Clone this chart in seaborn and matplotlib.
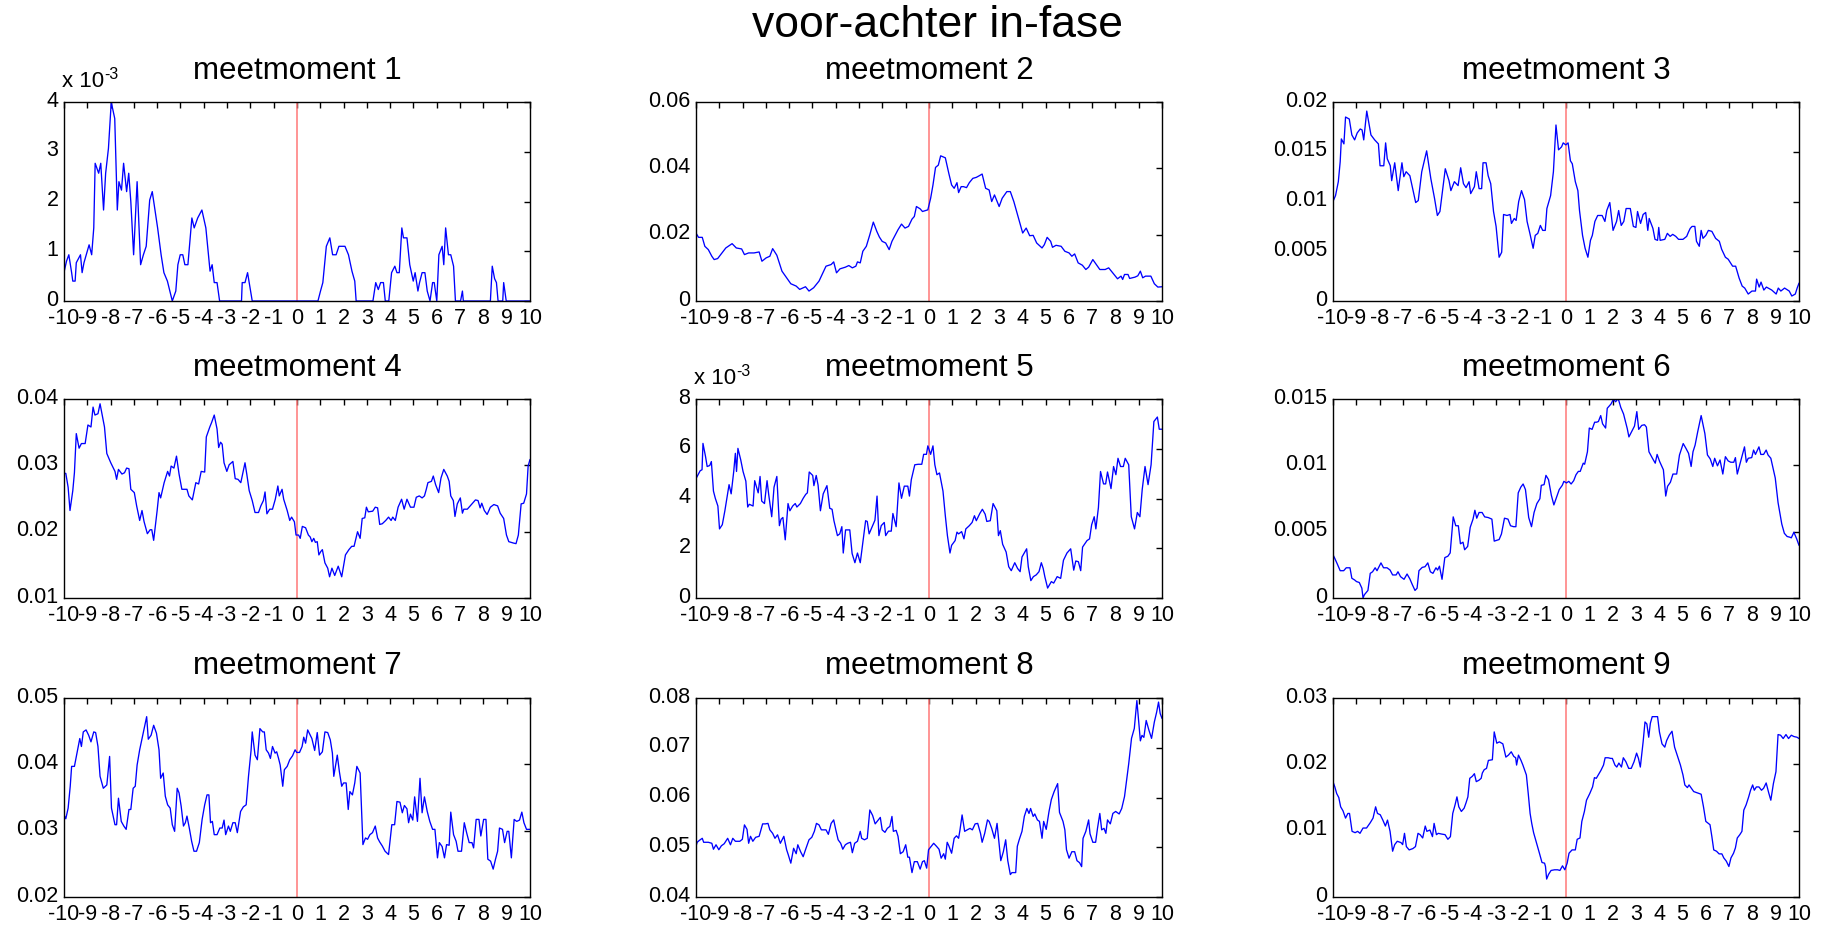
import numpy as np
import pandas as pd
import matplotlib
matplotlib.use("Agg")
import matplotlib.pyplot as plt
import matplotlib.transforms as mtransforms
from matplotlib.ticker import FuncFormatter
import seaborn as sns

# ---------------- data (x = time offset, y = value) ----------------
suptitle = "voor-achter in-fase"
titles = ["meetmoment %d" % i for i in range(1, 10)]
xticks = list(range(-10, 11))

# meetmoment 1 and 5 are read in units of 1e-3
meet1 = [(-10.0,0.57),(-9.89,0.8),(-9.79,0.93),(-9.67,0.57),(-9.62,0.4),(-9.52,0.4),(-9.47,0.77),(-9.29,0.93),
 (-9.22,0.57),(-9.14,0.77),(-8.92,1.13),(-8.81,0.93),(-8.72,1.47),(-8.66,2.77),(-8.51,2.57),(-8.42,2.77),
 (-8.30,1.83),(-8.21,2.57),(-8.09,3.07),(-7.97,4.0),(-7.82,3.67),(-7.71,1.83),(-7.64,2.4),(-7.53,2.23),
 (-7.44,2.77),(-7.31,2.2),(-7.22,2.57),(-7.13,2.0),(-7.01,0.93),(-6.86,2.4),(-6.71,0.73),(-6.59,0.93),
 (-6.47,1.1),(-6.32,2.03),(-6.21,2.2),(-5.98,1.47),(-5.83,0.93),(-5.71,0.57),(-5.56,0.4),(-5.35,0.0),
 (-5.20,0.2),(-5.11,0.73),(-5.01,0.93),(-4.90,0.93),(-4.81,0.73),(-4.68,0.73),(-4.51,1.67),(-4.41,1.47),
 (-4.26,1.67),(-4.08,1.83),(-3.91,1.47),(-3.73,0.6),(-3.64,0.73),(-3.55,0.37),(-3.43,0.37),(-3.32,0.0),
 (-2.38,0.0),(-2.35,0.37),(-2.23,0.37),(-2.12,0.57),(-2.05,0.37),(-1.92,0.0),(0.90,0.0),(1.01,0.2),
 (1.11,0.37),(1.26,1.1),(1.41,1.27),(1.53,0.93),(1.68,0.93),(1.80,1.1),(2.06,1.1),(2.21,0.93),(2.36,0.6),
 (2.48,0.4),(2.54,0.0),(3.26,0.0),(3.38,0.37),(3.49,0.23),(3.59,0.37),(3.71,0.37),(3.79,0.0),(3.94,0.0),
 (4.06,0.57),(4.20,0.7),(4.29,0.57),(4.39,0.57),(4.50,1.47),(4.57,1.27),(4.72,1.27),(4.84,0.73),(4.99,0.4),
 (5.07,0.57),(5.19,0.2),(5.26,0.37),(5.37,0.57),(5.49,0.57),(5.59,0.2),(5.71,0.0),(5.82,0.37),(5.89,0.37),
 (6.00,0.0),(6.09,0.93),(6.23,1.1),(6.30,0.73),(6.38,1.47),(6.50,0.93),(6.60,0.93),(6.72,0.7),(6.80,0.0),
 (7.02,0.0),(7.10,0.2),(7.14,0.0),(8.30,0.0),(8.38,0.7),(8.48,0.45),(8.56,0.37),(8.63,0.0),(8.83,0.0),
 (8.87,0.37),(8.98,0.0),(10.0,0.0)]

meet2 = [(-10.0,0.0205),(-9.89,0.0192),(-9.73,0.0192),(-9.62,0.0165),(-9.47,0.0155),(-9.32,0.0135),(-9.22,0.0125),
 (-9.07,0.0128),(-8.94,0.014),(-8.72,0.016),(-8.45,0.0173),(-8.27,0.016),(-8.04,0.0157),(-7.92,0.014),
 (-7.74,0.0145),(-7.51,0.0145),(-7.29,0.0148),(-7.17,0.012),(-6.99,0.013),(-6.83,0.0135),(-6.71,0.0158),
 (-6.53,0.0138),(-6.31,0.009),(-6.16,0.0075),(-5.93,0.0052),(-5.70,0.0045),(-5.55,0.0035),(-5.40,0.004),
 (-5.30,0.0043),(-5.15,0.003),(-4.95,0.004),(-4.72,0.006),(-4.42,0.0105),(-4.20,0.011),(-4.09,0.0118),
 (-3.97,0.0085),(-3.82,0.0097),(-3.59,0.0102),(-3.44,0.0107),(-3.29,0.010),(-3.14,0.0105),(-3.07,0.0118),
 (-2.95,0.0115),(-2.84,0.015),(-2.69,0.0165),(-2.54,0.020),(-2.39,0.0238),(-2.24,0.021),(-2.13,0.0193),
 (-2.01,0.018),(-1.86,0.0175),(-1.71,0.0155),(-1.59,0.018),(-1.48,0.0195),(-1.33,0.0215),(-1.18,0.0232),
 (-1.03,0.022),(-0.88,0.0225),(-0.73,0.0247),(-0.63,0.0255),(-0.54,0.0285),(-0.38,0.0278),(-0.28,0.027),
 (-0.05,0.0275),(0.07,0.031),(0.17,0.035),(0.28,0.0403),(0.40,0.041),(0.50,0.0438),(0.70,0.0432),
 (0.85,0.0385),(0.97,0.035),(1.08,0.034),(1.20,0.0357),(1.27,0.0327),(1.38,0.0345),(1.48,0.0345),
 (1.61,0.0342),(1.73,0.0357),(1.88,0.037),(2.03,0.0373),(2.16,0.0378),(2.28,0.0383),(2.43,0.034),
 (2.58,0.0335),(2.69,0.030),(2.81,0.032),(3.01,0.0285),(3.14,0.031),(3.34,0.033),(3.49,0.033),(3.64,0.030),
 (3.84,0.025),(4.02,0.0205),(4.17,0.022),(4.32,0.0197),(4.47,0.0198),(4.62,0.0175),(4.85,0.016),
 (4.95,0.017),(5.07,0.0192),(5.22,0.018),(5.30,0.0162),(5.45,0.0168),(5.67,0.0165),(5.83,0.015),
 (6.01,0.0145),(6.13,0.0135),(6.25,0.0142),(6.40,0.0115),(6.58,0.0108),(6.73,0.0095),(6.85,0.0102),
 (7.03,0.0125),(7.18,0.011),(7.33,0.0095),(7.56,0.0095),(7.71,0.010),(7.94,0.008),(8.09,0.0067),
 (8.24,0.0075),(8.31,0.0065),(8.39,0.008),(8.54,0.008),(8.61,0.0068),(8.84,0.0072),(8.96,0.0076),
 (9.07,0.009),(9.17,0.007),(9.29,0.0075),(9.52,0.0075),(9.67,0.0052),(9.82,0.0042),(10.0,0.0043)]

meet3 = [(-10.0,0.0100),(-9.89,0.0106),(-9.77,0.012),(-9.69,0.014),(-9.64,0.0163),(-9.53,0.0158),(-9.46,0.0185),
 (-9.30,0.0183),(-9.19,0.0167),(-9.07,0.0162),(-8.96,0.0169),(-8.83,0.0173),(-8.75,0.0172),(-8.68,0.0162),
 (-8.55,0.0191),(-8.37,0.0167),(-8.21,0.0162),(-8.05,0.0158),(-7.98,0.0136),(-7.82,0.0136),(-7.74,0.0159),
 (-7.67,0.0143),(-7.54,0.0136),(-7.48,0.0121),(-7.35,0.0139),(-7.20,0.0111),(-7.04,0.0139),(-6.96,0.0125),
 (-6.86,0.013),(-6.70,0.0126),(-6.58,0.0113),(-6.45,0.0099),(-6.34,0.0101),(-6.19,0.013),(-5.98,0.0151),
 (-5.80,0.0123),(-5.64,0.0103),(-5.52,0.0086),(-5.41,0.009),(-5.18,0.0133),(-5.02,0.0121),(-4.94,0.0111),
 (-4.79,0.012),(-4.63,0.0116),(-4.52,0.0134),(-4.40,0.0118),(-4.29,0.0114),(-4.16,0.012),(-4.09,0.0108),
 (-3.93,0.0115),(-3.85,0.013),(-3.73,0.0113),(-3.62,0.0113),(-3.56,0.0139),(-3.43,0.0139),(-3.34,0.0126),
 (-3.23,0.0118),(-3.11,0.009),(-3.00,0.0075),(-2.87,0.0044),(-2.76,0.0049),(-2.68,0.0087),(-2.53,0.0086),
 (-2.40,0.0087),(-2.34,0.0078),(-2.22,0.0083),(-2.14,0.0081),(-2.03,0.010),(-1.91,0.0111),(-1.78,0.0102),
 (-1.67,0.008),(-1.55,0.0068),(-1.41,0.0053),(-1.32,0.0066),(-1.21,0.0068),(-1.10,0.0076),(-1.00,0.0071),
 (-0.89,0.0071),(-0.82,0.0093),(-0.66,0.0106),(-0.54,0.013),(-0.43,0.0177),(-0.32,0.0152),(-0.19,0.0155),
 (-0.12,0.0159),(-0.01,0.0157),(0.09,0.0159),(0.19,0.0141),(0.27,0.0138),(0.40,0.012),(0.51,0.0111),
 (0.58,0.0091),(0.71,0.0066),(0.82,0.0053),(0.94,0.0044),(1.05,0.0061),(1.13,0.0066),(1.24,0.008),
 (1.36,0.0086),(1.55,0.0086),(1.67,0.008),(1.75,0.0091),(1.88,0.0099),(2.02,0.0071),(2.17,0.008),
 (2.26,0.0091),(2.37,0.0076),(2.48,0.008),(2.58,0.0093),(2.76,0.0093),(2.89,0.0075),(3.00,0.0074),
 (3.07,0.009),(3.20,0.0078),(3.31,0.0087),(3.42,0.0089),(3.51,0.0071),(3.57,0.0083),(3.73,0.0073),
 (3.82,0.0062),(3.93,0.0061),(3.98,0.0074),(4.04,0.0061),(4.24,0.0062),(4.35,0.0068),(4.47,0.0065),
 (4.58,0.0067),(4.71,0.0065),(4.83,0.0062),(5.02,0.0062),(5.18,0.0065),(5.25,0.0069),(5.33,0.0073),
 (5.41,0.0075),(5.53,0.0075),(5.60,0.006),(5.72,0.0055),(5.80,0.0071),(5.88,0.0063),(6.00,0.0066),
 (6.11,0.0071),(6.26,0.007),(6.42,0.0063),(6.58,0.006),(6.68,0.0052),(6.84,0.0044),(6.96,0.0042),
 (7.15,0.0035),(7.28,0.0035),(7.43,0.0023),(7.56,0.0015),(7.67,0.0013),(7.82,0.0007),(7.98,0.001),
 (8.13,0.001),(8.18,0.0022),(8.29,0.0014),(8.37,0.0019),(8.49,0.0011),(8.60,0.0014),(8.83,0.0011),
 (9.02,0.0007),(9.11,0.0013),(9.22,0.001),(9.38,0.0013),(9.58,0.001),(9.69,0.0005),(9.84,0.0007),
 (9.92,0.0013),(10.0,0.0018)]

meet4 = [(-10.0,0.0288),(-9.92,0.0288),(-9.82,0.0267),(-9.74,0.0232),(-9.62,0.0262),(-9.55,0.0289),(-9.47,0.0348),
 (-9.35,0.0326),(-9.25,0.0333),(-9.09,0.0333),(-8.97,0.0361),(-8.84,0.0358),(-8.75,0.0388),(-8.67,0.0376),
 (-8.54,0.0378),(-8.45,0.0393),(-8.26,0.0358),(-8.16,0.0318),(-7.99,0.0304),(-7.81,0.0291),(-7.74,0.0279),
 (-7.66,0.0294),(-7.51,0.0287),(-7.40,0.0289),(-7.31,0.0296),(-7.21,0.0295),(-7.13,0.0264),(-6.98,0.0259),
 (-6.88,0.0239),(-6.75,0.0217),(-6.65,0.0232),(-6.56,0.0215),(-6.42,0.0197),(-6.30,0.0203),(-6.23,0.0203),
 (-6.15,0.0187),(-6.00,0.0232),(-5.92,0.0259),(-5.85,0.0251),(-5.70,0.0274),(-5.55,0.0291),(-5.47,0.0284),
 (-5.40,0.0299),(-5.28,0.0296),(-5.17,0.0314),(-5.06,0.0287),(-4.94,0.0264),(-4.79,0.0264),(-4.72,0.0264),
 (-4.64,0.0254),(-4.49,0.0248),(-4.34,0.0274),(-4.22,0.0272),(-4.11,0.0291),(-3.96,0.029),(-3.89,0.0343),
 (-3.74,0.0358),(-3.66,0.0365),(-3.55,0.0376),(-3.43,0.0355),(-3.36,0.0327),(-3.28,0.0335),(-3.21,0.0332),
 (-3.13,0.0304),(-3.01,0.0291),(-2.91,0.0301),(-2.75,0.0306),(-2.65,0.028),(-2.53,0.0279),(-2.41,0.0274),
 (-2.23,0.0304),(-2.15,0.0286),(-2.05,0.0262),(-1.92,0.0247),(-1.80,0.0229),(-1.65,0.0229),(-1.55,0.0239),
 (-1.44,0.0247),(-1.37,0.026),(-1.29,0.0227),(-1.17,0.0234),(-1.05,0.0234),(-0.93,0.0249),(-0.82,0.0269),
 (-0.76,0.0254),(-0.64,0.0264),(-0.57,0.0249),(-0.42,0.0232),(-0.31,0.0217),(-0.23,0.0222),(-0.11,0.0215),
 (-0.04,0.0195),(0.07,0.0195),(0.14,0.019),(0.23,0.0208),(0.37,0.0206),(0.49,0.0195),(0.57,0.0192),
 (0.64,0.0185),(0.72,0.019),(0.79,0.0184),(0.87,0.0185),(0.94,0.0165),(1.02,0.017),(1.09,0.0173),
 (1.20,0.0153),(1.32,0.0145),(1.40,0.0132),(1.50,0.0145),(1.62,0.0134),(1.77,0.0148),(1.92,0.0132),
 (2.08,0.0165),(2.23,0.0173),(2.35,0.0178),(2.45,0.0178),(2.60,0.020),(2.71,0.019),(2.80,0.022),
 (2.91,0.0221),(2.98,0.0237),(3.06,0.023),(3.25,0.0231),(3.36,0.0237),(3.46,0.0236),(3.55,0.0211),
 (3.66,0.0212),(3.81,0.0217),(3.93,0.0222),(4.04,0.0217),(4.11,0.0222),(4.22,0.0217),(4.34,0.0237),
 (4.49,0.0249),(4.60,0.0234),(4.72,0.0249),(4.87,0.0237),(5.02,0.0237),(5.12,0.0252),(5.25,0.0254),
 (5.37,0.0251),(5.47,0.0254),(5.55,0.0264),(5.62,0.0274),(5.77,0.0276),(5.85,0.0284),(5.95,0.0271),
 (6.08,0.0259),(6.18,0.0281),(6.30,0.0294),(6.45,0.0284),(6.53,0.0276),(6.60,0.0254),(6.71,0.0247),
 (6.78,0.0223),(6.88,0.0242),(7.01,0.0251),(7.10,0.0228),(7.16,0.0234),(7.31,0.0234),(7.51,0.0242),
 (7.66,0.0248),(7.77,0.0247),(7.86,0.0236),(7.93,0.0243),(8.04,0.0232),(8.16,0.0226),(8.30,0.0237),
 (8.45,0.0241),(8.61,0.0239),(8.72,0.0228),(8.87,0.022),(8.99,0.0195),(9.09,0.0185),(9.28,0.0183),
 (9.40,0.0182),(9.50,0.0195),(9.62,0.0242),(9.73,0.0243),(9.85,0.0257),(9.92,0.0299),(10.0,0.0309)]

meet5 = [(-10.0,4.8),(-9.89,4.99),(-9.82,5.12),(-9.74,5.16),(-9.70,6.22),(-9.59,5.69),(-9.52,5.29),(-9.41,5.33),
 (-9.34,5.49),(-9.25,4.3),(-9.17,4.01),(-9.06,3.7),(-8.99,2.78),(-8.87,2.95),(-8.76,3.51),(-8.66,4.1),
 (-8.58,4.56),(-8.49,4.19),(-8.38,5.09),(-8.31,5.82),(-8.26,5.09),(-8.20,6.02),(-8.08,5.56),(-7.98,5.09),
 (-7.86,4.7),(-7.78,3.66),(-7.71,3.77),(-7.55,3.7),(-7.48,4.72),(-7.40,4.46),(-7.33,4.23),(-7.25,4.89),
 (-7.18,3.9),(-7.06,3.8),(-6.95,4.72),(-6.88,4.17),(-6.75,3.27),(-6.65,4.46),(-6.53,4.89),(-6.42,2.91),
 (-6.35,3.17),(-6.27,3.24),(-6.17,2.34),(-6.05,3.8),(-5.97,3.51),(-5.85,3.7),(-5.74,3.8),(-5.67,3.66),
 (-5.52,3.8),(-5.40,4.01),(-5.29,4.17),(-5.22,4.23),(-5.14,5.07),(-4.99,4.93),(-4.94,4.52),(-4.84,4.93),
 (-4.76,4.54),(-4.66,3.51),(-4.54,4.19),(-4.38,4.52),(-4.26,3.61),(-4.16,3.57),(-4.08,3.11),(-3.93,2.51),
 (-3.83,2.58),(-3.74,2.87),(-3.68,1.81),(-3.58,2.74),(-3.40,2.74),(-3.30,1.79),(-3.18,1.42),(-3.07,1.81),
 (-2.95,1.42),(-2.83,2.31),(-2.72,3.11),(-2.65,3.08),(-2.57,2.58),(-2.42,2.91),(-2.32,3.13),(-2.23,4.1),
 (-2.15,2.51),(-2.05,2.91),(-1.92,3.04),(-1.86,2.51),(-1.74,2.69),(-1.62,2.69),(-1.55,3.4),(-1.41,2.87),
 (-1.29,4.63),(-1.18,4.01),(-1.06,4.5),(-0.91,4.5),(-0.84,4.1),(-0.76,4.76),(-0.61,5.36),(-0.46,5.38),
 (-0.31,5.38),(-0.23,5.78),(-0.11,5.78),(-0.05,6.12),(0.07,5.78),(0.17,6.12),(0.25,5.36),(0.34,4.96),
 (0.45,5.03),(0.60,4.3),(0.70,3.31),(0.79,2.51),(0.90,1.81),(0.97,2.12),(1.12,2.31),(1.20,2.65),
 (1.27,2.58),(1.40,2.67),(1.50,2.38),(1.58,2.78),(1.73,2.91),(1.85,3.04),(1.95,3.31),(2.03,3.11),
 (2.18,3.4),(2.29,3.57),(2.41,3.37),(2.48,3.08),(2.63,3.11),(2.75,3.8),(2.91,3.51),(2.98,2.51),
 (3.06,2.71),(3.16,2.16),(3.31,1.85),(3.42,1.26),(3.53,1.1),(3.68,1.42),(3.80,1.19),(3.91,1.06),
 (3.99,1.65),(4.19,1.98),(4.26,1.26),(4.37,0.7),(4.48,0.86),(4.60,0.93),(4.72,1.06),(4.82,1.42),
 (4.90,1.19),(4.97,0.86),(5.09,0.4),(5.25,0.66),(5.35,0.6),(5.50,0.86),(5.65,0.79),(5.77,1.52),
 (5.92,1.81),(6.08,1.98),(6.21,1.12),(6.30,1.49),(6.41,1.46),(6.51,1.1),(6.59,2.05),(6.78,2.31),
 (6.89,2.38),(6.98,2.95),(7.09,3.27),(7.16,2.78),(7.27,3.64),(7.36,5.09),(7.49,4.59),(7.58,4.59),
 (7.66,5.07),(7.81,4.4),(7.92,5.29),(8.02,4.96),(8.11,5.62),(8.22,5.29),(8.34,5.29),(8.42,5.62),
 (8.57,5.36),(8.68,3.27),(8.82,2.78),(8.94,3.44),(9.05,3.27),(9.15,4.37),(9.27,5.29),(9.40,4.56),
 (9.53,5.36),(9.65,7.1),(9.80,7.28),(9.88,6.79),(10.0,6.79)]

meet6 = [(-10.0,0.00327),(-9.92,0.00298),(-9.81,0.00255),(-9.69,0.00206),(-9.54,0.00206),(-9.43,0.00228),
 (-9.27,0.00228),(-9.19,0.00149),(-9.07,0.00136),(-8.99,0.00124),(-8.87,0.00117),(-8.76,0.00074),
 (-8.71,0.0),(-8.65,0.00025),(-8.50,0.00057),(-8.40,0.00186),(-8.30,0.00198),(-8.19,0.00228),
 (-8.11,0.00206),(-7.94,0.00265),(-7.83,0.00228),(-7.68,0.00228),(-7.55,0.00211),(-7.44,0.00174),
 (-7.29,0.00174),(-7.21,0.00198),(-7.10,0.00161),(-6.95,0.00141),(-6.82,0.00181),(-6.70,0.00144),
 (-6.59,0.00099),(-6.48,0.00057),(-6.39,0.00074),(-6.31,0.00206),(-6.17,0.00231),(-6.05,0.00236),
 (-5.93,0.00265),(-5.82,0.00198),(-5.71,0.00186),(-5.58,0.00228),(-5.51,0.00211),(-5.43,0.0024),
 (-5.32,0.00141),(-5.20,0.00305),(-5.07,0.00315),(-4.97,0.0034),(-4.84,0.00612),(-4.73,0.00545),
 (-4.62,0.00545),(-4.53,0.00409),(-4.42,0.00421),(-4.35,0.00364),(-4.22,0.00389),(-4.11,0.00533),
 (-3.99,0.00595),(-3.91,0.00662),(-3.83,0.00602),(-3.73,0.00645),(-3.60,0.00645),(-3.49,0.00612),
 (-3.34,0.00607),(-3.18,0.00595),(-3.08,0.00429),(-2.87,0.00441),(-2.77,0.00483),(-2.64,0.00602),
 (-2.49,0.00595),(-2.38,0.00545),(-2.25,0.00538),(-2.15,0.00538),(-2.05,0.00793),(-1.94,0.00836),
 (-1.84,0.0086),(-1.74,0.00818),(-1.60,0.00607),(-1.48,0.00538),(-1.37,0.00645),(-1.25,0.00712),
 (-1.12,0.00749),(-1.06,0.0085),(-0.94,0.00855),(-0.86,0.00925),(-0.75,0.00893),(-0.63,0.00776),
 (-0.52,0.00702),(-0.39,0.00769),(-0.29,0.00818),(-0.16,0.0085),(-0.09,0.0088),(0.02,0.00868),
 (0.12,0.0088),(0.22,0.0086),(0.33,0.00885),(0.43,0.0093),(0.53,0.00955),(0.61,0.00955),(0.74,0.01017),
 (0.80,0.01009),(0.92,0.01103),(1.00,0.01282),(1.12,0.01272),(1.23,0.01326),(1.31,0.01326),
 (1.39,0.01331),(1.49,0.01376),(1.57,0.01314),(1.70,0.01282),(1.77,0.01431),(1.93,0.01463),(2.04,0.015),
 (2.13,0.0148),(2.24,0.01505),(2.35,0.01438),(2.47,0.01388),(2.63,0.01277),(2.70,0.01215),(2.81,0.01252),
 (2.94,0.01297),(3.04,0.01406),(3.12,0.01272),(3.25,0.01302),(3.37,0.01307),(3.45,0.01289),(3.56,0.01103),
 (3.71,0.01054),(3.83,0.01017),(3.91,0.01083),(4.02,0.01029),(4.18,0.00967),(4.28,0.00769),(4.36,0.00843),
 (4.48,0.00873),(4.59,0.00935),(4.75,0.00935),(4.87,0.01079),(5.03,0.01165),(5.15,0.01128),(5.26,0.01091),
 (5.37,0.00992),(5.45,0.01103),(5.54,0.01153),(5.65,0.01252),(5.80,0.01376),(5.96,0.0124),(6.07,0.01079),
 (6.19,0.01049),(6.30,0.00992),(6.38,0.01054),(6.50,0.00997),(6.61,0.01041),(6.73,0.00935),(6.84,0.01066),
 (6.96,0.01034),(7.07,0.01024),(7.20,0.01024),(7.27,0.01059),(7.35,0.00935),(7.51,0.01041),(7.66,0.0114),
 (7.74,0.01024),(7.82,0.01054),(7.97,0.01059),(8.05,0.01116),(8.13,0.01083),(8.28,0.0114),(8.36,0.01083),
 (8.48,0.01083),(8.59,0.01116),(8.67,0.01079),(8.79,0.01054),(8.87,0.00992),(8.98,0.00905),(9.10,0.0072),
 (9.26,0.00558),(9.37,0.00488),(9.49,0.00464),(9.60,0.00459),(9.67,0.00454),(9.78,0.00496),(9.90,0.00446),
 (10.0,0.00397)]

meet7 = [(-10.0,0.0324),(-9.92,0.0318),(-9.82,0.0334),(-9.73,0.0367),(-9.67,0.0397),(-9.55,0.0397),(-9.44,0.0417),
 (-9.32,0.0439),(-9.25,0.0427),(-9.17,0.0449),(-9.05,0.0452),(-8.94,0.0444),(-8.84,0.0434),(-8.72,0.0449),
 (-8.64,0.0448),(-8.54,0.0427),(-8.45,0.0382),(-8.31,0.0364),(-8.16,0.0369),(-8.04,0.0412),(-7.96,0.0334),
 (-7.81,0.0309),(-7.74,0.0309),(-7.66,0.0349),(-7.54,0.0314),(-7.43,0.0307),(-7.33,0.0302),(-7.21,0.0332),
 (-7.13,0.0332),(-7.03,0.0364),(-6.94,0.0367),(-6.86,0.0399),(-6.75,0.0422),(-6.60,0.0447),(-6.45,0.0472),
 (-6.38,0.0438),(-6.26,0.0444),(-6.15,0.0459),(-6.03,0.0447),(-5.92,0.0422),(-5.85,0.0379),(-5.74,0.0387),
 (-5.65,0.0352),(-5.55,0.0339),(-5.44,0.0334),(-5.35,0.0309),(-5.25,0.0299),(-5.14,0.0364),(-5.06,0.0357),
 (-4.97,0.0337),(-4.87,0.0307),(-4.79,0.0312),(-4.72,0.0322),(-4.61,0.0302),(-4.52,0.0284),(-4.42,0.0269),
 (-4.31,0.0269),(-4.19,0.0282),(-4.07,0.0317),(-3.96,0.0339),(-3.86,0.0354),(-3.78,0.0354),(-3.71,0.0312),
 (-3.63,0.0314),(-3.55,0.0294),(-3.43,0.0294),(-3.31,0.0304),(-3.21,0.0304),(-3.13,0.0316),(-3.06,0.0294),
 (-2.94,0.0307),(-2.86,0.0299),(-2.75,0.0312),(-2.65,0.0312),(-2.56,0.0297),(-2.42,0.0329),(-2.30,0.0336),
 (-2.18,0.0339),(-2.08,0.0382),(-1.97,0.0421),(-1.92,0.0449),(-1.80,0.0414),(-1.70,0.0407),(-1.59,0.0454),
 (-1.47,0.0449),(-1.40,0.0449),(-1.32,0.0422),(-1.22,0.0417),(-1.14,0.0409),(-1.05,0.0427),(-0.94,0.0417),
 (-0.87,0.0419),(-0.79,0.0409),(-0.72,0.0399),(-0.61,0.0367),(-0.54,0.0392),(-0.42,0.0397),(-0.31,0.0407),
 (-0.19,0.0413),(-0.08,0.0422),(-0.01,0.0418),(0.11,0.0418),(0.22,0.0427),(0.29,0.0441),(0.37,0.0432),
 (0.46,0.0452),(0.57,0.0444),(0.64,0.0439),(0.76,0.0421),(0.87,0.0448),(0.97,0.0414),(1.09,0.0419),
 (1.20,0.0449),(1.32,0.0448),(1.43,0.0437),(1.52,0.0417),(1.58,0.0382),(1.65,0.0397),(1.73,0.0414),
 (1.82,0.0389),(1.92,0.0367),(2.00,0.0372),(2.11,0.0372),(2.20,0.0332),(2.27,0.0359),(2.38,0.0354),
 (2.48,0.0372),(2.57,0.0397),(2.71,0.0387),(2.83,0.0279),(2.94,0.0289),(3.03,0.0287),(3.13,0.0294),
 (3.24,0.0297),(3.36,0.0307),(3.46,0.0289),(3.55,0.0283),(3.66,0.0277),(3.78,0.0269),(3.93,0.0264),
 (4.07,0.0309),(4.19,0.0309),(4.29,0.0344),(4.42,0.0343),(4.52,0.0327),(4.61,0.0338),(4.72,0.0333),
 (4.79,0.0312),(4.87,0.0325),(4.97,0.0316),(5.05,0.0351),(5.17,0.0314),(5.28,0.0379),(5.37,0.0327),
 (5.47,0.0351),(5.59,0.0329),(5.70,0.0314),(5.82,0.0302),(5.92,0.0302),(6.03,0.0259),(6.11,0.0282),
 (6.23,0.0276),(6.33,0.0259),(6.42,0.0279),(6.53,0.0278),(6.60,0.0328),(6.72,0.0294),(6.83,0.0284),
 (6.91,0.0269),(7.06,0.0269),(7.18,0.0312),(7.28,0.0297),(7.39,0.0282),(7.51,0.0282),(7.58,0.0274),
 (7.69,0.0317),(7.81,0.0317),(7.89,0.0292),(8.01,0.0317),(8.11,0.0317),(8.19,0.0257),(8.31,0.0254),
 (8.42,0.0242),(8.52,0.0257),(8.61,0.0269),(8.69,0.0304),(8.82,0.0302),(8.91,0.0282),(9.02,0.0299),
 (9.09,0.0299),(9.20,0.0259),(9.32,0.0317),(9.43,0.0314),(9.55,0.0316),(9.65,0.0328),(9.74,0.0312),
 (9.85,0.0302),(10.0,0.0302)]

meet8 = [(-10.0,0.0502),(-9.95,0.0510),(-9.85,0.0514),(-9.73,0.0518),(-9.67,0.0510),(-9.47,0.0510),(-9.32,0.0508),
 (-9.25,0.0496),(-9.14,0.0505),(-9.02,0.0495),(-8.91,0.0503),(-8.79,0.0507),(-8.64,0.0518),(-8.52,0.0505),
 (-8.42,0.0518),(-8.31,0.0512),(-8.12,0.0512),(-8.01,0.0516),(-7.92,0.0545),(-7.81,0.0536),(-7.74,0.0508),
 (-7.66,0.0522),(-7.56,0.0512),(-7.44,0.052),(-7.29,0.0522),(-7.14,0.0547),(-7.02,0.0547),(-6.91,0.0548),
 (-6.83,0.0535),(-6.71,0.0528),(-6.61,0.0518),(-6.50,0.0525),(-6.38,0.0508),(-6.23,0.0522),(-6.11,0.0495),
 (-6.04,0.0485),(-5.93,0.0468),(-5.81,0.0498),(-5.70,0.0487),(-5.63,0.0505),(-5.51,0.0491),(-5.40,0.0481),
 (-5.30,0.0495),(-5.15,0.0515),(-5.03,0.052),(-4.92,0.0532),(-4.83,0.0548),(-4.72,0.0545),(-4.62,0.0535),
 (-4.42,0.0535),(-4.32,0.0526),(-4.20,0.0548),(-4.09,0.0555),(-4.00,0.0535),(-3.90,0.0515),(-3.79,0.0508),
 (-3.70,0.0496),(-3.59,0.0505),(-3.49,0.0508),(-3.37,0.051),(-3.29,0.0489),(-3.19,0.0508),(-3.07,0.0512),
 (-2.95,0.0532),(-2.89,0.0518),(-2.77,0.0515),(-2.65,0.0518),(-2.54,0.0575),(-2.42,0.0564),(-2.31,0.0547),
 (-2.19,0.0554),(-2.09,0.056),(-2.01,0.0535),(-1.89,0.053),(-1.79,0.0538),(-1.68,0.0542),(-1.59,0.0562),
 (-1.53,0.0532),(-1.41,0.0534),(-1.33,0.0522),(-1.23,0.0487),(-1.11,0.0491),(-1.00,0.0505),(-0.91,0.048),
 (-0.84,0.048),(-0.73,0.0449),(-0.63,0.0471),(-0.50,0.0471),(-0.38,0.0456),(-0.28,0.0471),(-0.20,0.0473),
 (-0.10,0.0458),(-0.02,0.0495),(0.10,0.0502),(0.20,0.0508),(0.32,0.0502),(0.43,0.0496),(0.52,0.0478),
 (0.63,0.0487),(0.70,0.0476),(0.78,0.051),(0.85,0.0503),(0.97,0.0488),(1.08,0.0518),(1.18,0.0523),
 (1.27,0.0518),(1.33,0.0535),(1.42,0.0565),(1.53,0.0532),(1.64,0.0535),(1.76,0.0538),(1.86,0.0535),
 (1.98,0.0547),(2.09,0.0548),(2.21,0.0528),(2.28,0.051),(2.39,0.0528),(2.51,0.0555),(2.58,0.0552),
 (2.69,0.0538),(2.81,0.0518),(2.92,0.0548),(2.99,0.0515),(3.08,0.0473),(3.19,0.0491),(3.29,0.0515),
 (3.38,0.0473),(3.49,0.0445),(3.56,0.0449),(3.72,0.0449),(3.79,0.0502),(3.87,0.0515),(3.99,0.0532),
 (4.09,0.0562),(4.20,0.0578),(4.29,0.0568),(4.36,0.0578),(4.47,0.0562),(4.54,0.0567),(4.65,0.0555),
 (4.74,0.0552),(4.85,0.0518),(4.92,0.0552),(5.03,0.0536),(5.15,0.0572),(5.25,0.0596),(5.37,0.0612),
 (5.52,0.0628),(5.60,0.057),(5.75,0.0552),(5.83,0.0535),(5.90,0.0495),(6.01,0.0478),(6.13,0.0491),
 (6.25,0.0491),(6.35,0.0473),(6.46,0.0469),(6.55,0.0461),(6.61,0.0518),(6.73,0.0532),(6.85,0.0555),
 (6.91,0.0527),(7.03,0.051),(7.15,0.051),(7.23,0.0538),(7.33,0.0568),(7.41,0.0535),(7.51,0.0538),
 (7.59,0.0528),(7.66,0.0555),(7.78,0.0547),(7.89,0.0568),(8.01,0.0572),(8.16,0.0567),(8.27,0.0578),
 (8.39,0.0602),(8.51,0.0645),(8.57,0.0668),(8.69,0.0719),(8.81,0.0739),(8.92,0.0795),(9.07,0.0714),
 (9.14,0.0725),(9.22,0.0721),(9.32,0.0755),(9.44,0.0735),(9.55,0.0719),(9.67,0.0752),(9.77,0.0772),
 (9.85,0.0792),(9.92,0.0769),(10.0,0.0759)]

meet9 = [(-10.0,0.0174),(-9.92,0.0166),(-9.84,0.0156),(-9.75,0.015),(-9.67,0.0136),(-9.57,0.013),(-9.46,0.0119),
 (-9.36,0.0126),(-9.29,0.0126),(-9.18,0.0099),(-9.05,0.0097),(-8.94,0.0099),(-8.84,0.0096),(-8.71,0.0104),
 (-8.56,0.0104),(-8.40,0.0112),(-8.28,0.0119),(-8.17,0.0136),(-8.09,0.0126),(-7.97,0.0124),(-7.86,0.0116),
 (-7.75,0.0107),(-7.66,0.0116),(-7.55,0.0099),(-7.44,0.0069),(-7.35,0.0079),(-7.24,0.0084),(-7.08,0.0082),
 (-7.01,0.0079),(-6.93,0.0096),(-6.85,0.0076),(-6.73,0.0071),(-6.57,0.0073),(-6.46,0.0076),(-6.35,0.0096),
 (-6.26,0.0094),(-6.15,0.0089),(-6.04,0.0107),(-5.97,0.0099),(-5.84,0.0101),(-5.73,0.0091),(-5.66,0.0111),
 (-5.56,0.0094),(-5.48,0.0096),(-5.35,0.0095),(-5.19,0.0094),(-5.07,0.0087),(-4.96,0.0091),(-4.86,0.0126),
 (-4.76,0.0139),(-4.68,0.0151),(-4.60,0.0136),(-4.49,0.0129),(-4.37,0.0134),(-4.29,0.0142),(-4.21,0.0151),
 (-4.13,0.0179),(-4.02,0.0182),(-3.93,0.0186),(-3.85,0.0174),(-3.74,0.0176),(-3.64,0.0179),(-3.59,0.0187),
 (-3.51,0.0192),(-3.41,0.0194),(-3.33,0.0206),(-3.16,0.0207),(-3.08,0.0249),(-2.97,0.0232),(-2.86,0.0234),
 (-2.71,0.0231),(-2.58,0.0211),(-2.47,0.0214),(-2.35,0.0219),(-2.24,0.0212),(-2.16,0.021),(-2.12,0.0199),
 (-2.04,0.0214),(-1.93,0.0206),(-1.85,0.0199),(-1.70,0.0184),(-1.62,0.0156),(-1.54,0.0126),(-1.47,0.0111),
 (-1.39,0.0097),(-1.26,0.0081),(-1.14,0.0066),(-1.03,0.0052),(-0.92,0.0051),(-0.88,0.0046),(-0.83,0.0027),
 (-0.75,0.0034),(-0.64,0.004),(-0.49,0.0041),(-0.36,0.0041),(-0.26,0.004),(-0.15,0.0047),(-0.05,0.0041),
 (0.05,0.0051),(0.13,0.0066),(0.26,0.0071),(0.40,0.0071),(0.48,0.0087),(0.60,0.0089),(0.68,0.0114),
 (0.79,0.0129),(0.88,0.0146),(1.02,0.0156),(1.14,0.0166),(1.22,0.018),(1.30,0.0179),(1.40,0.0185),
 (1.50,0.0191),(1.61,0.0199),(1.68,0.021),(1.81,0.021),(1.92,0.0209),(1.99,0.0209),(2.10,0.0199),
 (2.18,0.0196),(2.27,0.0202),(2.38,0.0196),(2.46,0.021),(2.57,0.0204),(2.69,0.0194),(2.80,0.0194),
 (2.92,0.0204),(3.03,0.0217),(3.11,0.0209),(3.19,0.0196),(3.31,0.0234),(3.39,0.0264),(3.47,0.0261),
 (3.55,0.0241),(3.62,0.0262),(3.70,0.0272),(3.86,0.0272),(3.93,0.0272),(4.01,0.0249),(4.12,0.0231),
 (4.24,0.0226),(4.32,0.0236),(4.43,0.0244),(4.55,0.025),(4.66,0.0226),(4.79,0.0212),(4.91,0.0199),
 (5.02,0.0184),(5.10,0.0169),(5.21,0.0165),(5.28,0.0169),(5.38,0.0164),(5.48,0.0159),(5.72,0.0156),
 (5.80,0.0155),(5.90,0.0136),(6.00,0.0114),(6.11,0.0111),(6.18,0.0109),(6.26,0.0091),(6.34,0.0071),
 (6.46,0.0069),(6.57,0.0065),(6.69,0.0065),(6.77,0.0059),(6.88,0.0054),(6.99,0.0046),(7.08,0.0059),
 (7.19,0.0066),(7.27,0.0074),(7.35,0.0089),(7.46,0.0094),(7.55,0.0099),(7.63,0.0131),(7.73,0.0139),
 (7.84,0.0151),(7.92,0.0161),(8.01,0.0169),(8.08,0.0161),(8.17,0.0166),(8.28,0.0166),(8.39,0.0161),
 (8.48,0.0164),(8.59,0.0172),(8.70,0.0157),(8.79,0.0146),(8.90,0.0171),(9.01,0.0189),(9.10,0.0245),
 (9.21,0.0244),(9.32,0.0239),(9.44,0.0245),(9.55,0.0239),(9.67,0.0244),(9.78,0.0242),(9.91,0.0241),
 (10.0,0.0239)]

series = [meet1, meet2, meet3, meet4, meet5, meet6, meet7, meet8, meet9]
scale = [1e-3, 1, 1, 1, 1e-3, 1, 1, 1, 1]          # value multiplier
ylims = [(0, 0.004), (0, 0.06), (0, 0.02), (0.01, 0.04), (0, 0.008),
         (0, 0.015), (0.02, 0.05), (0.04, 0.08), (0, 0.03)]
yticks = [[0, 0.001, 0.002, 0.003, 0.004], [0, 0.02, 0.04, 0.06], [0, 0.005, 0.01, 0.015, 0.02],
          [0.01, 0.02, 0.03, 0.04], [0, 0.002, 0.004, 0.006, 0.008], [0, 0.005, 0.01, 0.015],
          [0.02, 0.03, 0.04, 0.05], [0.04, 0.05, 0.06, 0.07, 0.08], [0, 0.01, 0.02, 0.03]]

# ---------------- figure ----------------
sns.set_style("white")
plt.rcParams["font.family"] = ["Liberation Sans", "DejaVu Sans"]
plt.rcParams["text.color"] = "black"
plt.rcParams["axes.titlecolor"] = "black"

fig = plt.figure(figsize=(18.32, 9.25), dpi=100)
lefts = [0.0349, 0.3799, 0.7276]
bottoms = [0.6746, 0.3535, 0.0303]
W, H = 0.2544, 0.215
up = mtransforms.ScaledTranslation(0, 2.5 / 72, fig.dpi_scale_trans)

for i in range(9):
    r, c = divmod(i, 3)
    ax = fig.add_axes([lefts[c], bottoms[r], W, H])
    pts = series[i]
    df = pd.DataFrame({"t": [p[0] for p in pts], "v": [p[1] * scale[i] for p in pts]})
    ax.axvline(0, color="#ff7878", lw=1.1, zorder=1)
    sns.lineplot(data=df, x="t", y="v", ax=ax, color="#0000ff", lw=0.95,
                 estimator=None, sort=False, zorder=2)
    ax.set_xlim(-10, 10)
    ax.set_ylim(*ylims[i])
    ax.set_xticks(xticks)
    ax.set_xticklabels([str(v) for v in xticks])
    ax.set_yticks(yticks[i])
    if scale[i] != 1:
        ax.yaxis.set_major_formatter(FuncFormatter(lambda v, p: "%g" % round(v * 1000, 6)))
        ax.text(-0.004, 1.075, "x 10", transform=ax.transAxes, ha="left", va="baseline",
                fontsize=16, color="black")
        ax.text(0.086, 1.118, "-3", transform=ax.transAxes, ha="left", va="baseline",
                fontsize=11.5, color="black")
    else:
        ax.yaxis.set_major_formatter(FuncFormatter(lambda v, p: "%g" % round(v, 6)))
    ax.set_xlabel("")
    ax.set_ylabel("")
    ax.tick_params(direction="in", length=4, width=1, top=True, right=True,
                   labelsize=15.5, colors="black", pad=4)
    ax.tick_params(axis="x", pad=5)
    for lab in ax.get_yticklabels():
        lab.set_transform(lab.get_transform() + up)
    for s in ax.spines.values():
        s.set_color("black")
        s.set_linewidth(1.0)
        s.set_visible(True)
    ax.set_title(titles[i], fontsize=22.5, pad=17, color="black")

fig.text(0.512, 0.972, suptitle, ha="center", va="center", fontsize=32, color="black")
fig.savefig("out.png", dpi=100, facecolor="white")
